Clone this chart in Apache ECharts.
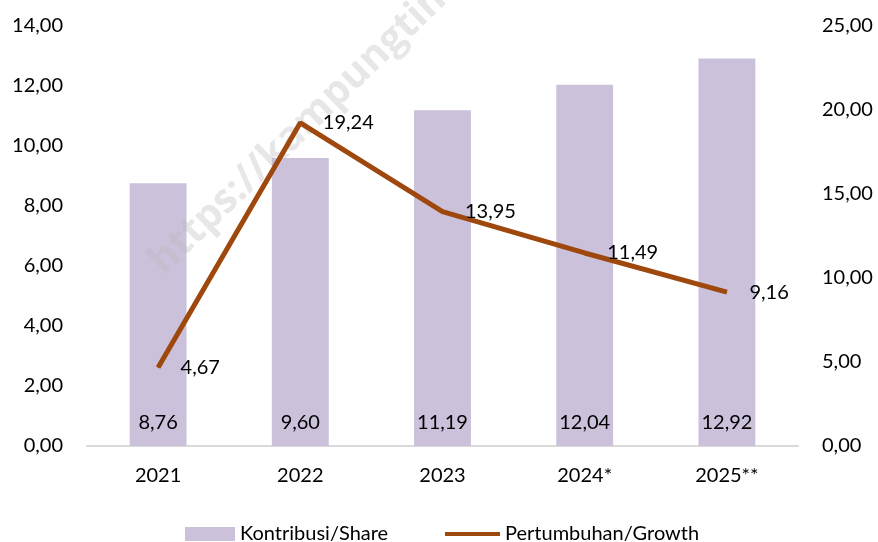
<!DOCTYPE html>
<html>
<head>
<meta charset="utf-8">
<script src="https://cdn.jsdelivr.net/npm/echarts@6/dist/echarts.min.js"></script>
<style>
  html, body { margin: 0; padding: 0; background: #ffffff; }
  #chart { width: 878px; height: 542px; }
</style>
</head>
<body>
<div id="chart"></div>
<script>
var years = ['2021', '2022', '2023', '2024*', '2025**'];
var shareVals = [8.76, 9.60, 11.19, 12.04, 12.92];
var growthVals = [4.67, 19.24, 13.95, 11.49, 9.16];

var FONT = 'Lato';

function fmt(v) {
  return v.toFixed(2).replace('.', ',');
}

var chartDom = document.getElementById('chart');
var myChart = echarts.init(chartDom);

var option = {
  animation: false,
  textStyle: { fontFamily: FONT },
  grid: { left: 87, right: 80, top: 26, bottom: 96 },
  graphic: [
    {
      type: 'text',
      x: 170,
      y: 282,
      rotation: 44 * Math.PI / 180,
      z: 2,
      style: {
        text: 'https://kampungtimes.com',
        font: 'bold 40px "Open Sans"',
        fill: 'rgba(185,185,185,0.35)',
        textVerticalAlign: 'bottom'
      }
    }
  ],
  legend: [
    {
      data: [{ name: 'Kontribusi/Share', icon: 'rect' }],
      left: 180,
      top: 519,
      itemWidth: 50,
      itemHeight: 14,
      textStyle: { fontFamily: FONT, fontSize: 20, color: '#000' }
    },
    {
      data: [{ name: 'Pertumbuhan/Growth', icon: 'rect' }],
      left: 440,
      top: 519,
      itemWidth: 55,
      itemHeight: 4,
      textStyle: { fontFamily: FONT, fontSize: 20, color: '#000' }
    }
  ],
  xAxis: {
    type: 'category',
    data: years,
    axisLine: { lineStyle: { color: '#d9d9d9', width: 2 } },
    axisTick: { show: false },
    axisLabel: { color: '#000', fontSize: 20, fontFamily: FONT, margin: 20 }
  },
  yAxis: [
    {
      type: 'value',
      min: 0, max: 14, interval: 2,
      splitLine: { show: false },
      axisLine: { show: false },
      axisLabel: { color: '#000', fontSize: 20, fontFamily: FONT, margin: 24, formatter: fmt }
    },
    {
      type: 'value',
      min: 0, max: 25, interval: 5,
      splitLine: { show: false },
      axisLine: { show: false },
      axisLabel: { color: '#000', fontSize: 20, fontFamily: FONT, margin: 24, formatter: fmt }
    }
  ],
  series: [
    {
      name: 'Kontribusi/Share',
      type: 'bar',
      data: shareVals,
      barWidth: '40%',
      z: 1,
      itemStyle: { color: '#cbc1db' },
      label: {
        show: true,
        position: 'insideBottom',
        distance: 13,
        color: '#000',
        fontSize: 20,
        fontFamily: FONT,
        formatter: function (p) { return fmt(p.value); }
      }
    },
    {
      name: 'Pertumbuhan/Growth',
      type: 'line',
      yAxisIndex: 1,
      data: growthVals,
      z: 5,
      symbol: 'circle',
      symbolSize: 1,
      showSymbol: true,
      lineStyle: { color: '#9e480e', width: 5 },
      itemStyle: { color: '#9e480e' },
      label: {
        show: true,
        position: 'right',
        distance: 22,
        color: '#000',
        fontSize: 20,
        fontFamily: FONT,
        formatter: function (p) { return fmt(p.value); }
      }
    }
  ]
};

option && myChart.setOption(option);
</script>
</body>
</html>
